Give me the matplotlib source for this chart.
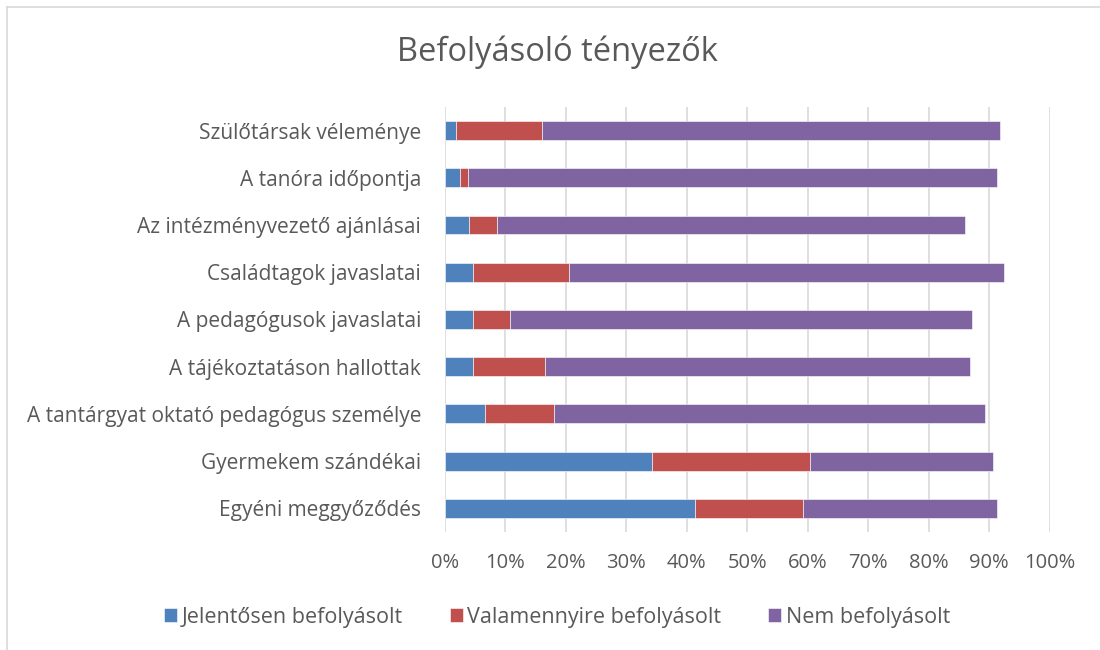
import matplotlib
matplotlib.use("Agg")
import matplotlib.pyplot as plt
from matplotlib.lines import Line2D
import numpy as np

# Adatok (felülről lefelé, ahogy a képen)
kategoriak = ['Szülőtársak véleménye',
              'A tanóra időpontja',
              'Az intézményvezető ajánlásai',
              'Családtagok javaslatai',
              'A pedagógusok javaslatai',
              'A tájékoztatáson hallottak',
              'A tantárgyat oktató pedagógus személye',
              'Gyermekem szándékai',
              'Egyéni meggyőződés']
jelentosen = [1.9, 2.5, 4.0, 4.7, 4.7, 4.7, 6.7, 34.2, 41.3]
valamennyire = [14.2, 1.4, 4.7, 15.9, 6.1, 11.8, 11.3, 26.2, 18.0]
nem = [75.7, 87.4, 77.3, 71.9, 76.3, 70.3, 71.3, 30.2, 32.0]
sorozatok = ['Jelentősen befolyásolt', 'Valamennyire befolyásolt', 'Nem befolyásolt']
xtick_labels = [f'{v}%' for v in range(0, 101, 10)]

szinek = ['#4F81BD', '#C0504D', '#8064A2']
szoveg = '#595959'
plt.rcParams['font.family'] = ['Open Sans', 'DejaVu Sans']

fig = plt.figure(figsize=(11, 6.5), dpi=100)
ax = fig.add_axes([444.7 / 1100, 1 - 532 / 650, 605 / 1100, 425 / 650])

y = np.arange(len(kategoriak))
bal = np.zeros(len(kategoriak))
for ertekek, szin, nev in zip([jelentosen, valamennyire, nem], szinek, sorozatok):
    ax.barh(y, ertekek, left=bal, height=0.4, color=szin, label=nev,
            edgecolor='white', linewidth=0.4, zorder=3)
    bal = bal + np.array(ertekek)

ax.set_xlim(0, 100)
ax.set_ylim(len(kategoriak) - 0.5, -0.5)
ax.set_xticks(range(0, 101, 10))
ax.set_xticklabels(xtick_labels)
ax.set_yticks(y)
ax.set_yticklabels(kategoriak)
ax.tick_params(axis='x', length=0, pad=15, labelsize=14.5, labelcolor=szoveg)
ax.tick_params(axis='y', length=0, pad=17, labelsize=15, labelcolor=szoveg)
ax.grid(axis='x', color='#d9d9d9', linewidth=1.2, zorder=0)
for s in ax.spines.values():
    s.set_visible(False)

fig.text(557 / 1100, 1 - 52 / 650, 'Befolyásoló tényezők', ha='center', va='center',
         fontsize=23.5, color=szoveg)

fig.legend(loc='center', bbox_to_anchor=(557 / 1100, 1 - 617 / 650), ncol=3,
           frameon=False, fontsize=15.5, labelcolor=szoveg, handlelength=0.6,
           handleheight=0.6, handletextpad=0.2, columnspacing=2.2)

# keret bal és felső széle
fig.add_artist(Line2D([7 / 1100, 7 / 1100], [0, 1 - 7 / 650], color='#d9d9d9', linewidth=1.2))
fig.add_artist(Line2D([7 / 1100, 1], [1 - 7 / 650, 1 - 7 / 650], color='#d9d9d9', linewidth=1.2))

fig.savefig('out.png', dpi=100)
